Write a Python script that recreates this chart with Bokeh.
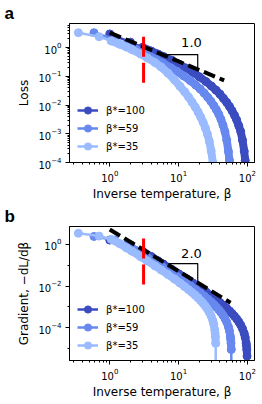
from bokeh.plotting import figure
from bokeh.layouts import column
from bokeh.models import FixedTicker, LogTickFormatter, Legend, LegendItem, Range1d
from bokeh.core.properties import value
from bokeh.embed import file_html
from bokeh.resources import INLINE

# ---------------- data ----------------
series_labels = ["β*=100", "β*=59", "β*=35"]
colors = ["#3b4cc0", "#6788ee", "#9abbff"]

beta_100 = [1, 2, 3, 4, 5, 6, 8, 10, 13, 16, 20, 25, 30, 35, 40, 45, 50, 55, 60, 65,
            70, 75, 80, 85, 90, 93, 96, 97, 98, 99, 100]
beta_59 = [0.59, 1.18, 1.77, 2.36, 2.95, 3.54, 4.72, 5.9, 7.67, 9.44, 11.8, 14.75, 17.7,
           20.65, 23.6, 26.55, 29.5, 32.45, 35.4, 38.35, 41.3, 44.25, 47.2, 50.15, 53.1,
           54.87, 56.64, 57.23, 57.82, 58.41, 59.0]
beta_35 = [0.35, 0.7, 1.05, 1.4, 1.75, 2.1, 2.8, 3.5, 4.55, 5.6, 7.0, 8.75, 10.5, 12.25,
           14.0, 15.75, 17.5, 19.25, 21.0, 22.75, 24.5, 26.25, 28.0, 29.75, 31.5, 32.55,
           33.6, 33.95, 34.3, 34.65, 35.0]

loss_100 = [3.0, 1.55, 1.02, 0.76, 0.60, 0.49, 0.36, 0.27, 0.19, 0.14, 0.097, 0.066, 0.046,
            0.033, 0.024, 0.017, 0.0124, 0.0089, 0.0063, 0.0044, 0.0030, 0.0019, 0.0012,
            0.0006, 0.00025, 0.00012, 3.6e-5, 1.8e-5, 8e-6, 2e-6, 0.0]
loss_59 = [3.3, 1.95, 1.25, 0.9, 0.7, 0.56, 0.39, 0.29, 0.2, 0.15, 0.104, 0.071, 0.05,
           0.036, 0.026, 0.0187, 0.0135, 0.0097, 0.0069, 0.0048, 0.0032, 0.0020, 0.0012,
           0.0006, 0.00024, 0.00012, 3.6e-5, 1.8e-5, 8e-6, 2e-6, 0.0]
loss_35 = [3.3, 2.4, 1.7, 1.3, 1.05, 0.85, 0.6, 0.44, 0.30, 0.21, 0.13, 0.075, 0.045,
           0.029, 0.019, 0.0125, 0.0085, 0.0057, 0.0038, 0.0025, 0.0016, 0.00098, 0.00055,
           0.00026, 0.0001, 5e-5, 1.6e-5, 1e-5, 5e-6, 1.5e-6, 0.0]

grad_100 = [1.6, 0.95, 0.47, 0.261, 0.165, 0.114, 0.0625, 0.0392, 0.0224, 0.0143, 0.0087,
            0.0052, 0.0034, 0.0023, 0.00163, 0.00118, 0.00087, 0.00065, 0.00048, 0.00036,
            0.000266, 0.000193, 0.000136, 9.0e-5, 5.4e-5, 3.5e-5, 1.9e-5, 1.4e-5, 9.1e-6,
            4.4e-6, 0.0]
grad_59 = [2.4, 1.6, 0.96, 0.534, 0.338, 0.233, 0.128, 0.080, 0.0458, 0.0292, 0.0178,
           0.0107, 0.0069, 0.0047, 0.0033, 0.0024, 0.00178, 0.00133, 0.00099, 0.00074,
           0.00055, 0.0004, 0.00028, 0.000185, 0.00011, 7.2e-5, 3.9e-5, 2.8e-5, 1.85e-5,
           9.1e-6, 0.0]
grad_35 = [3.4, 2.5, 1.75, 1.08, 0.68, 0.47, 0.258, 0.162, 0.0925, 0.059, 0.036, 0.0216,
           0.014, 0.0095, 0.0067, 0.0049, 0.0036, 0.0027, 0.002, 0.0015, 0.0011, 0.0008,
           0.00056, 0.00037, 0.00022, 0.000145, 7.8e-5, 5.7e-5, 3.7e-5, 1.8e-5, 0.0]

# reference guides
fit_a_beta = [1.0, 46.0]
fit_a_loss = [3.3, 0.072]
fit_b_beta = [1.0, 57.0]
fit_b_grad = [5.2, 0.0016]
red_beta = [3.1, 3.1]
red_a = [2.4, 0.047]
red_b = [1.93, 0.011]
tri_a_beta = [6.5, 19.0, 19.0]
tri_a_loss = [0.57, 0.57, 0.18]
tri_b_beta = [7.2, 19.0, 19.0]
tri_b_grad = [0.12, 0.12, 0.013]
slope_a = ("1.0", 15.4, 1.53)
slope_b = ("2.0", 15.4, 0.37)

x_major = [1, 10, 100]
x_minor = [m * d for d in (0.1, 1, 10) for m in range(2, 10)]
ya_major = [1e-4, 1e-3, 1e-2, 1e-1, 1]
ya_minor = [m * d for d in (1e-4, 1e-3, 1e-2, 1e-1, 1) for m in range(2, 10)]
yb_major = [1e-4, 1e-2, 1]
yb_minor = [1e-5, 1e-3, 1e-1]

FONT = "DejaVu Sans"


def clip(vals):
    return [v if v > 0 else 1e-12 for v in vals]


def panel(letter, ylabel, y_lo, y_hi, frame_h, top, bottom, y_major,
          y_minor, betas, values, fit_x, fit_y, red_y, tri_x, tri_y, slope, legend_y):
    p = figure(x_axis_type="log", y_axis_type="log",
               x_range=Range1d(0.26, 127), y_range=Range1d(y_lo, y_hi),
               frame_width=185, frame_height=frame_h,
               min_border_left=69, min_border_right=8,
               min_border_top=top, min_border_bottom=bottom,
               output_backend="svg", toolbar_location=None)
    p.title.text = letter
    p.title.text_font = "Liberation Sans"
    p.title.text_font_size = "17px"
    p.title.text_font_style = "bold"
    p.title.text_color = "black"
    p.title.align = "left"
    p.title.offset = -65
    p.title.standoff = 2
    p.grid.visible = False
    p.outline_line_color = "black"
    p.outline_line_width = 1
    p.outline_line_alpha = 1
    p.background_fill_color = "white"
    p.border_fill_color = "white"

    for ax in (p.xaxis[0], p.yaxis[0]):
        ax.major_label_text_font = FONT
        ax.major_label_text_font_size = "10px"
        ax.major_label_text_color = "black"
        ax.axis_label_text_font = FONT
        ax.axis_label_text_font_size = "12px"
        ax.axis_label_text_font_style = "normal"
        ax.axis_label_text_color = "black"
        ax.axis_line_color = "black"
        ax.major_tick_line_color = "black"
        ax.minor_tick_line_color = "black"
        ax.major_tick_in = 0
        ax.major_tick_out = 4
        ax.minor_tick_in = 0
        ax.minor_tick_out = 2
        ax.formatter = LogTickFormatter()
    p.xaxis.major_label_standoff = 3
    p.xaxis.axis_label_standoff = 2
    p.yaxis.major_label_standoff = 4
    p.yaxis.axis_label_standoff = 4
    p.xaxis.ticker = FixedTicker(ticks=x_major, minor_ticks=x_minor)
    p.yaxis.ticker = FixedTicker(ticks=y_major, minor_ticks=y_minor)
    p.xaxis.axis_label = "Inverse temperature, β"
    p.yaxis.axis_label = ylabel

    items = []
    for b, v, c, lab in zip(betas, values, colors, series_labels):
        p.line(b[2:-1], v[2:-1], line_width=8, color=c, line_cap="round", line_join="round")
        thin = p.line(b, clip(v), line_width=2.5, color=c)
        dots = p.scatter(b[:-1], v[:-1], size=8, color=c, line_color=c)
        items.append(LegendItem(label=lab, renderers=[thin, dots]))

    p.line(fit_x, fit_y, line_width=4, color="black", line_dash="12 5")
    p.line(red_beta, red_y, line_width=3, color="red", line_dash="20 6")
    p.line(tri_x, tri_y, line_width=1.2, color="black")
    p.text(x=[slope[1]], y=[slope[2]], text=[slope[0]], text_font=value(FONT),
           text_font_size="13px", text_align="center", text_baseline="middle",
           text_color="black")

    leg = Legend(items=items, location=(8, legend_y), padding=0, margin=0, spacing=0,
                 glyph_width=21, glyph_height=18, label_height=18, label_standoff=8,
                 label_text_font=FONT, label_text_font_size="10px",
                 label_text_color="black",
                 border_line_alpha=0, background_fill_alpha=0)
    p.add_layout(leg)
    return p


pa = panel("a", "Loss", 1e-4, 6.9, 139, 23, 40, ya_major, ya_minor,
           [beta_100, beta_59, beta_35], [loss_100, loss_59, loss_35],
           fit_a_beta, fit_a_loss, red_a, tri_a_beta, tri_a_loss, slope_a, 7)
pb = panel("b", "Gradient, −dL/dβ", 2.7e-6, 7.2, 134, 22, 46, yb_major, yb_minor,
           [beta_100, beta_59, beta_35], [grad_100, grad_59, grad_35],
           fit_b_beta, fit_b_grad, red_b, tri_b_beta, tri_b_grad, slope_b, 6)

layout = column(pa, pb, spacing=0)
open("out.html", "w").write(file_html(layout, INLINE))
